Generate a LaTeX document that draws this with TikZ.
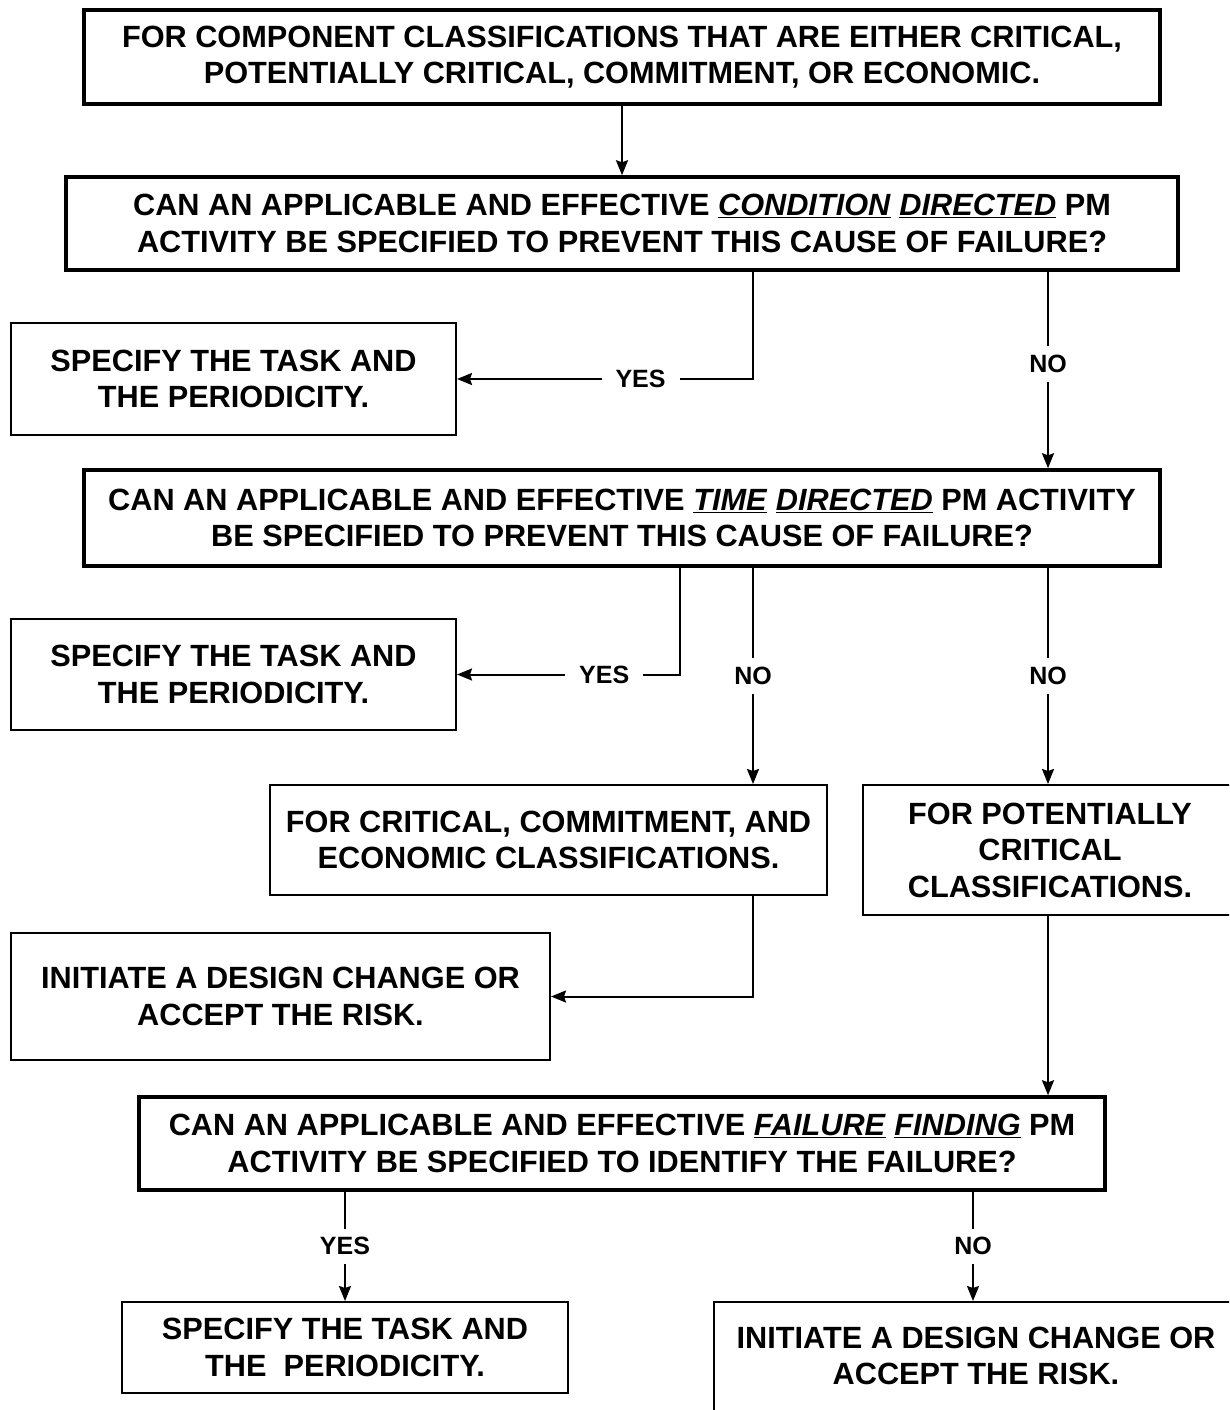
\documentclass[tikz,border=0pt]{standalone}
\usepackage{fontspec}
\setmainfont{Liberation Sans}
\usetikzlibrary{arrows.meta}
\newcommand{\emword}[1]{\underline{\textit{#1}}}
\begin{document}
\begin{tikzpicture}[x=1pt,y=-1pt,
  boxtext/.style={align=center,font=\fontsize{30.7}{36.5}\selectfont\bfseries,inner sep=0pt},
  thickbox/.style={boxtext,draw,line width=3.5pt,rectangle},
  thinbox/.style={boxtext,draw,line width=2pt,rectangle},
  conn/.style={line width=2pt},
  arr/.style={conn,-{Stealth[length=15pt,width=12pt,inset=2pt]}},
  lbl/.style={fill=white,font=\fontsize{25}{30}\selectfont\bfseries,inner xsep=14pt,inner ysep=9pt}]
\useasboundingbox (0,0) rectangle (1229,1410);
\clip (0,0) rectangle (1229,1410);
\fill[white] (0,0) rectangle (1229,1410);

% reference columns for the connectors
\coordinate (colA) at (753,0);
\coordinate (colB) at (680,0);
\coordinate (colC) at (1048,0);
\coordinate (colD) at (973,0);

% boxes
\node[thickbox,minimum width=1076pt,minimum height=94pt] (b1) at (622,57)
  {FOR COMPONENT CLASSIFICATIONS THAT ARE EITHER CRITICAL,\\POTENTIALLY CRITICAL, COMMITMENT, OR ECONOMIC.};
\node[thickbox,minimum width=1112pt,minimum height=93pt] (b2) at (622,223.5)
  {CAN AN APPLICABLE AND EFFECTIVE \emword{CONDITION} \emword{DIRECTED} PM\\ACTIVITY BE SPECIFIED TO PREVENT THIS CAUSE OF FAILURE?};
\node[thinbox,minimum width=445pt,minimum height=112pt] (b3) at (233.5,379)
  {SPECIFY THE TASK AND\\THE PERIODICITY.};
\node[thickbox,minimum width=1076pt,minimum height=96pt] (b4) at (622,518)
  {CAN AN APPLICABLE AND EFFECTIVE \emword{TIME} \emword{DIRECTED} PM ACTIVITY\\BE SPECIFIED TO PREVENT THIS CAUSE OF FAILURE?};
\node[thinbox,minimum width=445pt,minimum height=111pt] (b5) at (233.5,674.5)
  {SPECIFY THE TASK AND\\THE PERIODICITY.};
\node[thinbox,minimum width=557pt,minimum height=110pt] (b6) at (548.5,840)
  {FOR CRITICAL, COMMITMENT, AND\\ECONOMIC CLASSIFICATIONS.};
\node[thinbox,minimum width=374pt,minimum height=130pt] (b7) at (1050,850)
  {FOR POTENTIALLY\\CRITICAL\\CLASSIFICATIONS.};
\node[thinbox,minimum width=539pt,minimum height=127pt] (b8) at (280.5,996.5)
  {INITIATE A DESIGN CHANGE OR\\ACCEPT THE RISK.};
\node[thickbox,minimum width=966pt,minimum height=93pt] (b9) at (622,1143.5)
  {CAN AN APPLICABLE AND EFFECTIVE \emword{FAILURE} \emword{FINDING} PM\\ACTIVITY BE SPECIFIED TO IDENTIFY THE FAILURE?};
\node[thinbox,minimum width=446pt,minimum height=91pt] (b10) at (345,1347.5)
  {SPECIFY THE TASK AND\\THE\ \ PERIODICITY.};
\node[thinbox,minimum width=524pt,minimum height=144pt,text depth=36pt] (b11) at (976,1374)
  {INITIATE A DESIGN CHANGE OR\\ACCEPT THE RISK.};

% connectors
\draw[arr] (b1.south -| b2.north) -- (b2.north);
\draw[arr] (b2.south -| colA) |- (b3.east) node[lbl,pos=0.69] {YES};
\draw[arr] (b2.south -| colC) -- (b4.north -| colC) node[lbl,pos=0.47] {NO};
\draw[arr] (b4.south -| colB) |- (b5.east) node[lbl,pos=0.67] {YES};
\draw[arr] (b4.south -| colA) -- (b6.north -| colA) node[lbl,pos=0.5] {NO};
\draw[arr] (b4.south -| colC) -- (b7.north -| colC) node[lbl,pos=0.5] {NO};
\draw[arr] (b6.south -| colA) |- (b8.east);
\draw[arr] (b7.south -| colC) -- (b9.north -| colC);
\draw[arr] (b9.south -| b10.north) -- (b10.north) node[lbl,pos=0.5] {YES};
\draw[arr] (b9.south -| colD) -- (b11.north -| colD) node[lbl,pos=0.5] {NO};
\end{tikzpicture}
\end{document}
